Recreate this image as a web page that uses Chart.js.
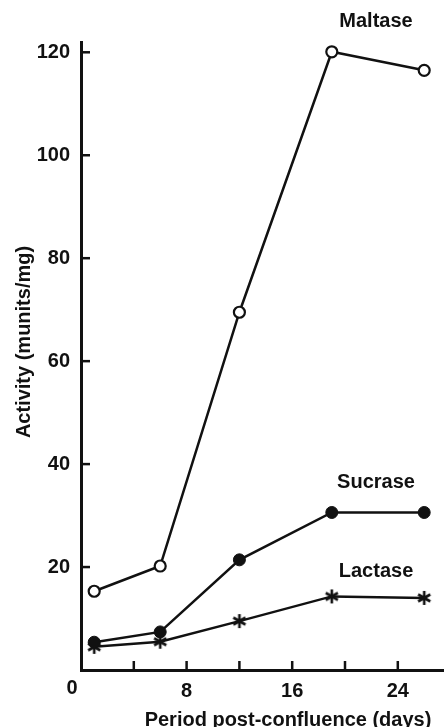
<!DOCTYPE html>
<html>
<head>
<meta charset="utf-8">
<script src="https://cdn.jsdelivr.net/npm/chart.js@4.4.0/dist/chart.umd.min.js"></script>
<style>
  html, body { margin: 0; padding: 0; background: #fff; }
  #wrap { width: 444px; height: 727px; }
</style>
</head>
<body>
<div id="wrap"><canvas id="chart"></canvas></div>
<script>
// days post-confluence and enzyme activity (munits/mg)
const days = [1, 6, 12, 19, 26];
const maltase = [15.3, 20.2, 69.5, 120.1, 116.5];
const sucrase = [5.4, 7.4, 21.4, 30.6, 30.6];
const lactase = [4.5, 5.5, 9.5, 14.3, 14.0];
const seriesNames = ['Maltase', 'Sucrase', 'Lactase'];
const xTicks = [4, 8, 12, 16, 20, 24];
const xLabelled = [8, 16, 24];
const yTicks = [20, 40, 60, 80, 100, 120];

const FONT = '"Liberation Sans", Arial, sans-serif';
const INK = '#111';

function pts(vals) {
  return days.map((d, i) => ({ x: d, y: vals[i] }));
}

// six-armed asterisk marker, like the printed one
function asterisk() {
  const c = document.createElement('canvas');
  c.width = 16; c.height = 16;
  const g = c.getContext('2d');
  g.strokeStyle = INK;
  g.lineWidth = 2.6;
  [90, 30, 150].forEach(a => {
    const r = a * Math.PI / 180;
    const dx = Math.cos(r) * 7, dy = Math.sin(r) * 7;
    g.beginPath(); g.moveTo(8 - dx, 8 - dy); g.lineTo(8 + dx, 8 + dy); g.stroke();
  });
  return c;
}

// inward tick marks, the lone "0", axis titles and series names
const decorations = {
  id: 'decorations',
  afterDraw(chart) {
    const { ctx, scales: { x, y } } = chart;
    ctx.save();
    ctx.strokeStyle = INK;
    ctx.lineWidth = 2.5;
    y.ticks.forEach(t => {
      const py = y.getPixelForValue(t.value);
      ctx.beginPath(); ctx.moveTo(x.left, py); ctx.lineTo(x.left + 9, py); ctx.stroke();
    });
    x.ticks.forEach(t => {
      const px = x.getPixelForValue(t.value);
      ctx.beginPath(); ctx.moveTo(px, y.bottom); ctx.lineTo(px, y.bottom - 9); ctx.stroke();
    });

    ctx.fillStyle = INK;
    ctx.textAlign = 'center';
    ctx.textBaseline = 'middle';
    ctx.font = 'bold 20px ' + FONT;
    ctx.fillText('0', x.left - 9, y.bottom + 18);
    ctx.fillText('Period post-confluence (days)', 288, 720);

    const anchors = [126, 36.5, 19.2];
    seriesNames.forEach((name, i) => {
      ctx.fillText(name, x.getPixelForValue(22.35), y.getPixelForValue(anchors[i]));
    });

    ctx.translate(24, 342);
    ctx.rotate(-Math.PI / 2);
    ctx.fillText('Activity (munits/mg)', 0, 0);
    ctx.restore();
  }
};

new Chart(document.getElementById('chart'), {
  type: 'line',
  data: {
    datasets: [
      {
        label: seriesNames[0],
        data: pts(maltase),
        borderColor: INK,
        borderWidth: 2.5,
        pointStyle: 'circle',
        pointRadius: 5.5,
        pointBorderWidth: 2.2,
        pointBackgroundColor: '#fff',
        pointBorderColor: INK
      },
      {
        label: seriesNames[1],
        data: pts(sucrase),
        borderColor: INK,
        borderWidth: 2.5,
        pointStyle: 'circle',
        pointRadius: 6,
        pointBorderWidth: 1,
        pointBackgroundColor: INK,
        pointBorderColor: INK
      },
      {
        label: seriesNames[2],
        data: pts(lactase),
        borderColor: INK,
        borderWidth: 2.5,
        pointStyle: asterisk(),
        pointRadius: 7
      }
    ]
  },
  options: {
    responsive: true,
    maintainAspectRatio: false,
    devicePixelRatio: 1,
    animation: false,
    clip: false,
    layout: { autoPadding: false, padding: { top: 42, right: 0, left: 0, bottom: 0 } },
    plugins: {
      legend: { display: false },
      tooltip: { enabled: false }
    },
    scales: {
      x: {
        type: 'linear',
        min: 0,
        max: 27.5,
        afterFit: s => { s.height = 57; },
        afterBuildTicks: s => { s.ticks = xTicks.map(v => ({ value: v })); },
        border: { color: INK, width: 3 },
        grid: { drawOnChartArea: false, drawTicks: false },
        ticks: {
          padding: 9,
          color: INK,
          font: { family: FONT, size: 20, weight: 'bold' },
          maxRotation: 0,
          autoSkip: false,
          callback: v => xLabelled.includes(v) ? String(v) : ''
        }
      },
      y: {
        min: 0,
        max: 122,
        afterFit: s => { s.width = 81; },
        afterBuildTicks: s => { s.ticks = yTicks.map(v => ({ value: v })); },
        border: { color: INK, width: 3 },
        grid: { drawOnChartArea: false, drawTicks: false },
        ticks: {
          padding: 11,
          color: INK,
          font: { family: FONT, size: 20, weight: 'bold' },
          autoSkip: false
        }
      }
    }
  },
  plugins: [decorations]
});
</script>
</body>
</html>
